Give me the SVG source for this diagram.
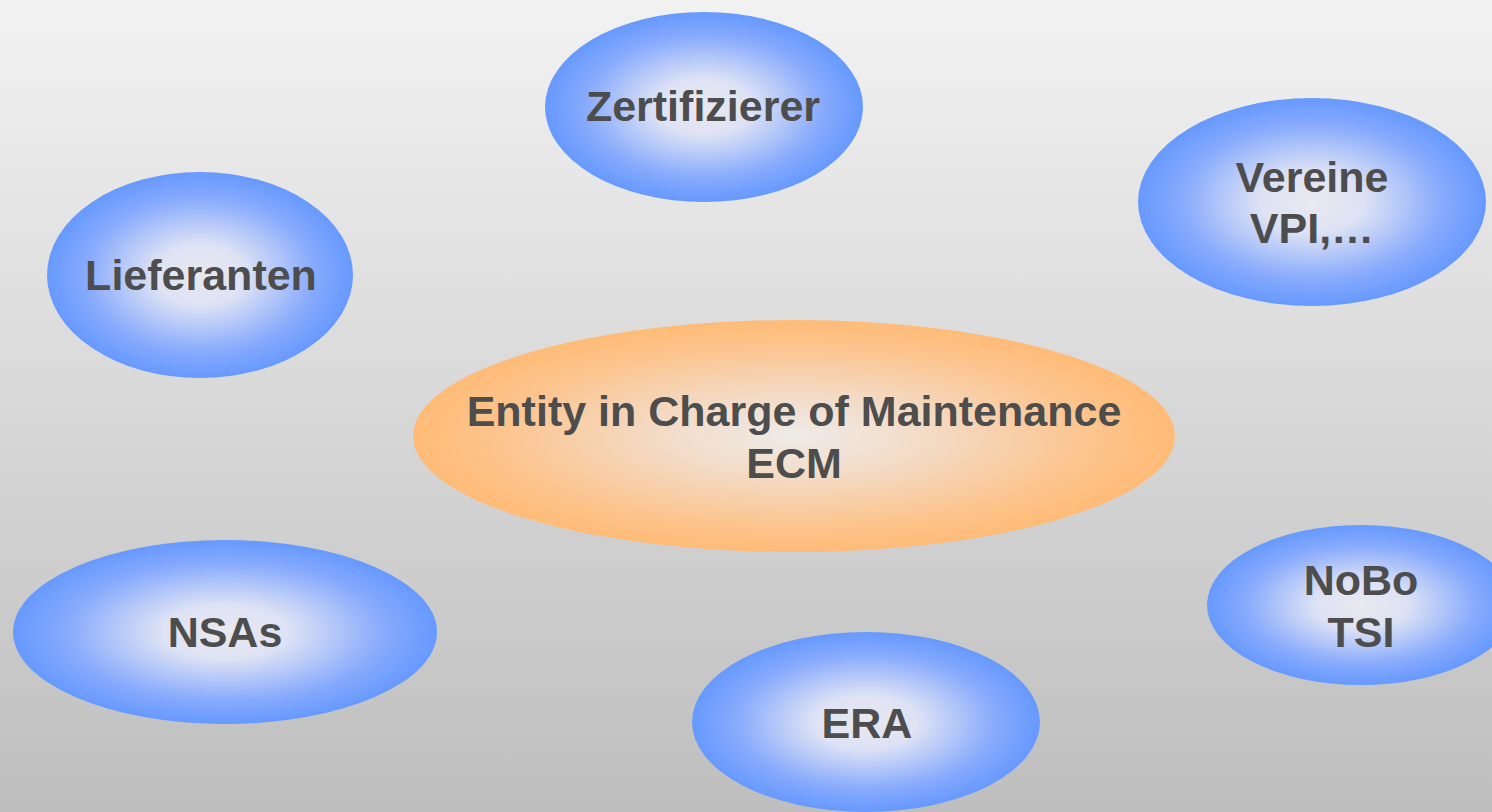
<svg xmlns="http://www.w3.org/2000/svg" width="1492" height="812" viewBox="0 0 1492 812">
<defs>
<linearGradient id="bg" x1="0" y1="0" x2="0" y2="1">
<stop offset="0" stop-color="#f2f2f2"/>
<stop offset="1" stop-color="#bebebe"/>
</linearGradient>
<radialGradient id="blue" cx="0.5" cy="0.5" r="0.5">
<stop offset="0" stop-color="#e9e9ee"/>
<stop offset="0.3" stop-color="#dde2f5"/>
<stop offset="0.75" stop-color="#87aafc"/>
<stop offset="1" stop-color="#6699ff"/>
</radialGradient>
<radialGradient id="orange" cx="0.5" cy="0.5" r="0.5">
<stop offset="0" stop-color="#eeebe8"/>
<stop offset="0.35" stop-color="#f3dbc6"/>
<stop offset="0.8" stop-color="#fdc38b"/>
<stop offset="1" stop-color="#ffbb77"/>
</radialGradient>
</defs>
<style>
.b{fill:url(#blue)}
.o{fill:url(#orange)}
text{font-family:"Liberation Sans",Arial,sans-serif;font-weight:bold;font-size:43px;fill:#4d4d4d;text-anchor:middle}
</style>
<rect x="0" y="0" width="1492" height="812" fill="url(#bg)"/>
<g id="connectors"/>
<g id="zertifizierer">
<ellipse class="b" cx="704" cy="107" rx="159" ry="95"/>
<text x="703" y="121">Zertifizierer</text>
</g>
<g id="vereine">
<ellipse class="b" cx="1312" cy="202" rx="174" ry="104"/>
<text x="1312" y="192">Vereine</text>
<text x="1312" y="243">VPI,…</text>
</g>
<g id="lieferanten">
<ellipse class="b" cx="200" cy="275" rx="153" ry="103"/>
<text x="201" y="290">Lieferanten</text>
</g>
<g id="ecm">
<ellipse class="o" cx="794" cy="436" rx="381" ry="116"/>
<text x="794" y="426">Entity in Charge of Maintenance</text>
<text x="794" y="478">ECM</text>
</g>
<g id="nsas">
<ellipse class="b" cx="225" cy="632" rx="212" ry="92"/>
<text x="225" y="647">NSAs</text>
</g>
<g id="era">
<ellipse class="b" cx="866" cy="722" rx="174" ry="90"/>
<text x="867" y="738">ERA</text>
</g>
<g id="nobo">
<ellipse class="b" cx="1361" cy="605" rx="154" ry="80"/>
<text x="1361" y="595">NoBo</text>
<text x="1361" y="647">TSI</text>
</g>
</svg>
